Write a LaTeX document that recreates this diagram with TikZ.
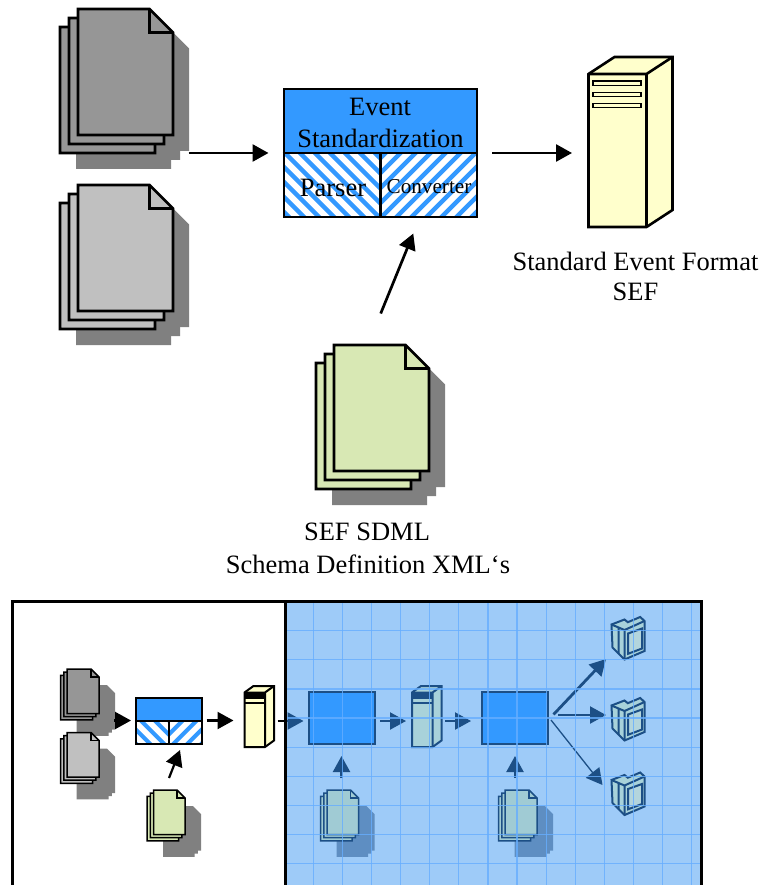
\documentclass[tikz,border=0pt]{standalone}
\usepackage{fontspec}
\setmainfont{Liberation Serif}
\usetikzlibrary{arrows.meta}
\definecolor{evblue}{HTML}{3399FF}
\definecolor{srvyel}{HTML}{FFFFCC}
\definecolor{docdark}{HTML}{969696}
\definecolor{doclight}{HTML}{C0C0C0}
\definecolor{docgreen}{HTML}{D8E8B4}
\definecolor{shadowgray}{HTML}{808080}
\definecolor{panelblue}{HTML}{9ECBF8}
\definecolor{gridblue}{HTML}{66AEFF}
\definecolor{inkblue}{HTML}{1C4F86}
\definecolor{dimdoc}{HTML}{A0CBD4}
\definecolor{dimshadow}{HTML}{5E8EC2}
\definecolor{dimsrv}{HTML}{A8D2DA}
\tikzset{
  heavy/.style={line width=2.6pt,line join=miter},
  minidoc/.style={line width=1.5pt,line join=miter},
  thinink/.style={line width=1.5pt,line join=miter},
  monink/.style={line width=2pt,line join=miter},
  bigarrow/.style={line width=2.7pt,-{Triangle[length=16pt,width=17pt]}},
  minarrow/.style={line width=2.2pt,-{Triangle[length=16pt,width=17pt]}},
  dimarrow/.style={minarrow,draw=inkblue,color=inkblue},
  label/.style={inner sep=0pt,font=\fontsize{26.5}{30}\selectfont,text=black,anchor=base},
}
% #1 x, #2 y, #3 w, #4 h, #5 fold, #6 style
\newcommand{\onepage}[6]{%
  \path[#6] (#1,#2) -- ({#1+#3-#5},#2) -- ({#1+#3},{#2+#5}) -- ({#1+#3},{#2+#4}) -- (#1,{#2+#4}) -- cycle;}
% stack: #1 x, #2 y, #3 w, #4 h, #5 off, #6 fold, #7 fill, #8 shadow, #9 line style
\newcommand{\stack}[9]{%
  \foreach \k in {2,1,0}{\onepage{#1-\k*#5+16}{#2+\k*#5+16}{#3}{#4}{#6}{fill=#8}}%
  \foreach \k in {2,1,0}{\onepage{#1-\k*#5}{#2+\k*#5}{#3}{#4}{#6}{fill=#7,#9}}%
  \draw[#9] ({#1+#3-#6},#2) -- ({#1+#3-#6},{#2+#6}) -- ({#1+#3},{#2+#6});}
% slanted tower: #1 left,#2 top,#3 right,#4 bottom,#5 back dx,#6 back dy,#7 fill,#8 style
\newcommand{\tower}[8]{%
  \draw[#8,fill=#7] (#1,#2) -- (#1+#5,#2-#6) -- (#3+#5,#2-#6) -- (#3+#5,#4-#6) -- (#3,#4) -- (#1,#4) -- cycle;
  \draw[#8] (#1,#2) -- (#3,#2) -- (#3+#5,#2-#6) (#3,#2) -- (#3,#4);}
\newcommand{\stripes}[6]{% x1 y1 x2 y2 direction(+1/-1) pitch
  \begin{scope}
    \clip (#1,#2) rectangle (#3,#4);
    \foreach \i in {-30,...,30}{
      \draw[evblue,line width={0.29*#6}] ({(#1+#3)/2+\i*#6-#5*40},{(#2+#4)/2-40}) -- ({(#1+#3)/2+\i*#6+#5*40},{(#2+#4)/2+40});}
  \end{scope}}
\newcommand{\monitor}[2]{%
  \begin{scope}[shift={(#1,#2)}]
    \draw[monink,draw=inkblue,fill=dimsrv] (0,8) -- (13,3) -- (16.3,5.7) -- (28.7,0.5) -- (33,4.5) -- (33,34.5) -- (13,43) -- (1,31) -- cycle;
    \draw[monink,draw=inkblue] (0,8) -- (13,13.5) -- (33,4.5) (13,13.5) -- (13,43) (7,11) -- (7,37);
    \draw[monink,draw=inkblue,fill=dimdoc!80!white] (16.5,17) -- (30.5,12) -- (30.5,32) -- (16.5,37.3) -- cycle;
  \end{scope}}
\begin{document}
\begin{tikzpicture}[x=1pt,y=-1pt]
\useasboundingbox (0,0) rectangle (763,885);
% ---------- upper diagram
\stack{78}{9}{95}{126}{9}{23.5}{docdark}{shadowgray}{heavy,draw=black}
\stack{78}{185}{95}{126}{9}{23.5}{doclight}{shadowgray}{heavy,draw=black}
\stack{334}{345}{95}{126}{9}{23.5}{docgreen}{shadowgray}{heavy,draw=black}
% event box
\fill[evblue] (284,89) rectangle (477,153);
\stripes{284}{153}{380}{217}{1}{15}
\stripes{380}{153}{477}{217}{-1}{15}
\node[heavy,draw=black,minimum width=193pt,minimum height=128pt,inner sep=0pt] (eventbox) at (380.5,153) {};
\draw[heavy] (eventbox.west) -- (eventbox.east);
\draw[heavy] (eventbox.center) -- (eventbox.south);
\node[label] (evt1) at (380,116) {Event};
\node[label] (evt2) at (380.5,148) {Standardization};
\node[label] (parser) at (333,197) {Parser};
\node[label,font=\fontsize{21.2}{24}\selectfont] (conv) at (429,194) {Converter};
% server
\tower{588.5}{74}{646.5}{227}{26}{17}{srvyel}{heavy,draw=black}
\foreach \y/\h in {81/4.5,92.5/4,103.5/4}{\draw[line width=1.8pt,fill=srvyel] (593,\y) rectangle (641,\y+\h);}
\node[label] (sef1) at (635.5,270) {Standard Event Format};
\node[label] (sef2) at (635.5,300) {SEF};
\node[label] (sdml1) at (367,540) {SEF SDML};
\node[label] (sdml2) at (368,573) {Schema Definition XML‘s};
% arrows
\coordinate (a1s) at (188.5,153); \coordinate (a1e) at (268.5,153);
\coordinate (a2s) at (492,153); \coordinate (a2e) at (572,153);
\coordinate (a3s) at (380.7,313.5); \coordinate (a3e) at (413.3,233.5);
\draw[bigarrow] (a1s) -- (a1e);
\draw[bigarrow] (a2s) -- (a2e);
\draw[bigarrow] (a3s) -- (a3e);
% ---------- lower panel
\fill[panelblue] (285,601) rectangle (701,885);
% left part
\stack{67}{669}{32}{44.5}{3.2}{8}{docdark}{shadowgray}{minidoc,draw=black}
\stack{67}{732.5}{32}{44.5}{3.2}{8}{doclight}{shadowgray}{minidoc,draw=black}
\stack{153.5}{790}{31.5}{44.5}{3.2}{8}{docgreen}{shadowgray}{minidoc,draw=black}
\fill[evblue] (136,698) rectangle (202,720);
\stripes{136}{720}{168.5}{744}{1}{14}
\stripes{168.5}{720}{202}{744}{-1}{14}
\node[line width=2.2pt,draw=black,minimum width=66pt,minimum height=46pt,inner sep=0pt] (ministd) at (169,721) {};
\draw[line width=2.2pt] (ministd.west) -- (ministd.east);
\draw[line width=2.2pt] (ministd.center) -- (ministd.south);
\tower{244.5}{692.5}{265}{747}{9}{6.5}{srvyel}{line width=2pt,draw=black}
\fill[black] (245,693) rectangle (265,699);
\fill[black] (245,701.5) rectangle (265,704);
\coordinate (b1s) at (114,720.5); \coordinate (b1e) at (131,720.5);
\coordinate (b2s) at (206.5,720.5); \coordinate (b2e) at (233.5,720.5);
\coordinate (b3s) at (169,778); \coordinate (b3e) at (180,750);
\draw[minarrow] (b1s) -- (b1e);
\draw[minarrow] (b2s) -- (b2e);
\draw[minarrow] (b3s) -- (b3e);
% blue part
\stack{327}{790}{31.5}{44.5}{3.2}{8}{dimdoc}{dimshadow}{thinink,draw=inkblue}
\stack{505}{790}{32}{44.5}{3.2}{8}{dimdoc}{dimshadow}{thinink,draw=inkblue}
\node[line width=2.4pt,draw=inkblue,fill=evblue,minimum width=66pt,minimum height=52pt,inner sep=0pt] (proc1) at (342,718) {};
\node[line width=2.4pt,draw=inkblue,fill=evblue,minimum width=66pt,minimum height=52pt,inner sep=0pt] (proc2) at (515,718) {};
\tower{412}{692.5}{432.5}{747}{9}{6.5}{dimsrv}{line width=2pt,draw=inkblue}
\fill[inkblue] (412.5,693) rectangle (432,699);
\fill[inkblue] (412.5,701.5) rectangle (432,704);
\monitor{611.5}{616.5}
\monitor{611.5}{697.5}
\monitor{611.5}{772}
\coordinate (c0s) at (285,721); \coordinate (c0e) at (303.5,721);
\coordinate (c1s) at (380,721); \coordinate (c1e) at (406,721);
\coordinate (c2s) at (445,721); \coordinate (c2e) at (471,721);
\coordinate (c3s) at (341.5,778); \coordinate (c3e) at (341.5,756);
\coordinate (c4s) at (515,778); \coordinate (c4e) at (515,756);
\coordinate (d1s) at (553.5,714.5); \coordinate (d1e) at (606,659);
\coordinate (d2s) at (558,715); \coordinate (d2e) at (606,715);
\coordinate (d3s) at (551,720); \coordinate (d3e) at (602.5,785);
\draw[line width=2.2pt] (277.5,721) -- (c0s);
\draw[dimarrow] (c0s) -- (c0e);
\draw[dimarrow] (c1s) -- (c1e);
\draw[dimarrow] (c2s) -- (c2e);
\draw[dimarrow] (c3s) -- (c3e);
\draw[dimarrow] (c4s) -- (c4e);
\draw[dimarrow,line width=2.8pt] (d1s) -- (d1e);
\draw[dimarrow,line width=2.2pt] (d2s) -- (d2e);
\draw[dimarrow,line width=1.3pt] (d3s) -- (d3e);
% grid overlay
\begin{scope}
  \clip (285,601) rectangle (701,885);
  \foreach \i in {0,...,13}{\draw[gridblue,line width=1.2pt,opacity=.8] ({313.3+\i*29.1},601) -- ({313.3+\i*29.1},885);}
  \foreach \i in {0,...,8}{\draw[gridblue,line width=1.2pt,opacity=.8] (285,{630.7+\i*29.1}) -- (701,{630.7+\i*29.1});}
\end{scope}
% frame
\draw[line width=3pt] (12,885) -- (12,601.5) -- (701,601.5) -- (701,885);
\draw[line width=3pt] (285,601.5) -- (285,885);
\end{tikzpicture}
\end{document}
